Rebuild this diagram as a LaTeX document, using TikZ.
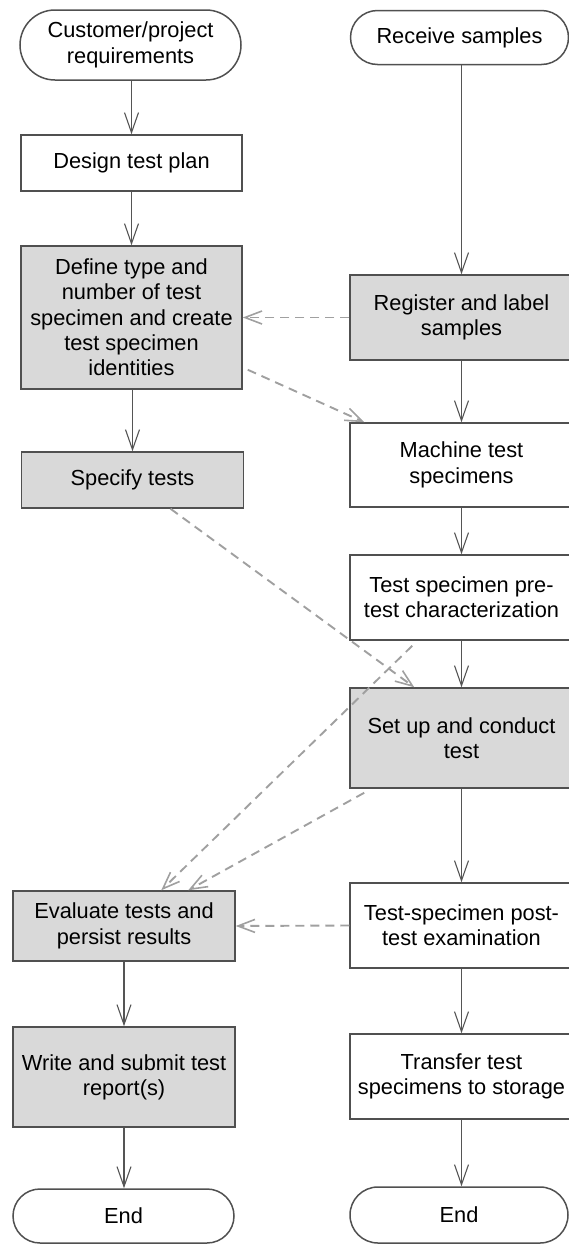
\documentclass[tikz,border=0pt]{standalone}
\usepackage{fontspec}
\setmainfont{Liberation Sans}
\usetikzlibrary{arrows.meta,shapes.misc,calc}

\definecolor{boxline}{RGB}{80,80,80}
\definecolor{flowline}{RGB}{85,85,85}
\definecolor{boxfill}{RGB}{217,217,217}
\definecolor{linkline}{RGB}{160,160,160}

\tikzset{
  base/.style={draw=boxline, line width=1.5pt, inner sep=0pt, align=center,
    font=\fontsize{21.8}{25.3}\selectfont, text=black},
  terminal/.style={base, rounded rectangle},
  plainbox/.style={base, rectangle, fill=white},
  shadedbox/.style={base, rectangle, fill=boxfill},
  flow/.style={draw=flowline, line width=1.1pt,
    -{Straight Barb[length=20pt,width=14pt,line width=1.1pt]}},
  link/.style={draw=linkline, line width=1.9pt, dash pattern=on 9pt off 6pt,
    -{Straight Barb[length=17pt,width=13pt,line width=1.6pt]}}
}

\begin{document}
\begin{tikzpicture}[x=1pt,y=-1pt]
\useasboundingbox (0,0) rectangle (569,1245);
\clip (0,0) rectangle (569,1245);

% left column
\node[terminal, minimum width=221pt, minimum height=70pt] (cust) at (130.5,45)
  {Customer/project\\requirements};
\node[plainbox, minimum width=221pt, minimum height=56pt] (design) at (131.5,163)
  {Design test plan};
\node[shadedbox, minimum width=221pt, minimum height=143pt] (define) at (131.5,317.5)
  {Define type and\\number of test\\specimen and create\\test specimen\\identities};
\node[shadedbox, minimum width=222pt, minimum height=56pt] (specify) at (132.5,480)
  {Specify tests};
\node[shadedbox, minimum width=222pt, minimum height=70pt] (eval) at (124,926)
  {Evaluate tests and\\persist results};
\node[shadedbox, minimum width=222pt, minimum height=100pt] (write) at (124,1077)
  {Write and submit test\\report(s)};
\node[terminal, minimum width=221pt, minimum height=54pt] (endl) at (123.5,1216)
  {End};

% right column
\node[terminal, minimum width=218pt, minimum height=54pt] (receive) at (459.5,37.5)
  {Receive samples};
\node[shadedbox, minimum width=223pt, minimum height=85pt] (register) at (461.5,317.5)
  {Register and label\\samples};
\node[plainbox, minimum width=223pt, minimum height=84pt] (machine) at (461.5,465)
  {Machine test\\specimens};
\node[plainbox, minimum width=223pt, minimum height=85pt] (pretest) at (461.5,597.5)
  {Test specimen pre-\\test characterization};
\node[shadedbox, minimum width=223pt, minimum height=100pt] (setup) at (461.5,738)
  {Set up and conduct\\test};
\node[plainbox, minimum width=223pt, minimum height=85pt] (post) at (461.5,925.5)
  {Test-specimen post-\\test examination};
\node[plainbox, minimum width=223pt, minimum height=85pt] (transfer) at (461.5,1076.5)
  {Transfer test\\specimens to storage};
\node[terminal, minimum width=218pt, minimum height=56pt] (endr) at (459,1215)
  {End};

% main flow, left column
\draw[flow] (cust.south -| design.north) -- (design.north);
\draw[flow] (design) -- (define);
\draw[flow] (define.south -| specify.north) -- (specify.north);
\draw[flow] (eval) -- (write);
\draw[flow] (write.south) -- (write.south |- endl.north);

% main flow, right column
\draw[flow] (receive.south -| register.north) -- (register.north);
\draw[flow] (register) -- (machine);
\draw[flow] (machine) -- (pretest);
\draw[flow] (pretest) -- (setup);
\draw[flow] (setup) -- (post);
\draw[flow] (post) -- (transfer);
\draw[flow] (transfer.south) -- (transfer.south |- endr.north);

% information links
\coordinate (defineout) at ($(define.south east)+(5,-20)$);
\coordinate (machinein) at ($(machine.north west)+(15,0)$);
\coordinate (specifyout) at ($(specify.south)+(38,0)$);
\coordinate (setupin) at ($(setup.north west)+(65,0)$);
\coordinate (pretestout) at ($(pretest.south west)+(63,5)$);
\coordinate (setupout) at ($(setup.south west)+(15,4)$);
\coordinate (evalinA) at ($(eval.north west)+(149,0)$);
\coordinate (evalinB) at ($(eval.north west)+(176,0)$);

\draw[link] (register.west) -- (define.east);
\draw[link] (defineout) -- (machinein);
\draw[link] (specifyout) -- (setupin);
\draw[link] (pretestout) -- (evalinA);
\draw[link] (setupout) -- (evalinB);
\draw[link] (post.west) -- (eval.east);
\end{tikzpicture}
\end{document}
